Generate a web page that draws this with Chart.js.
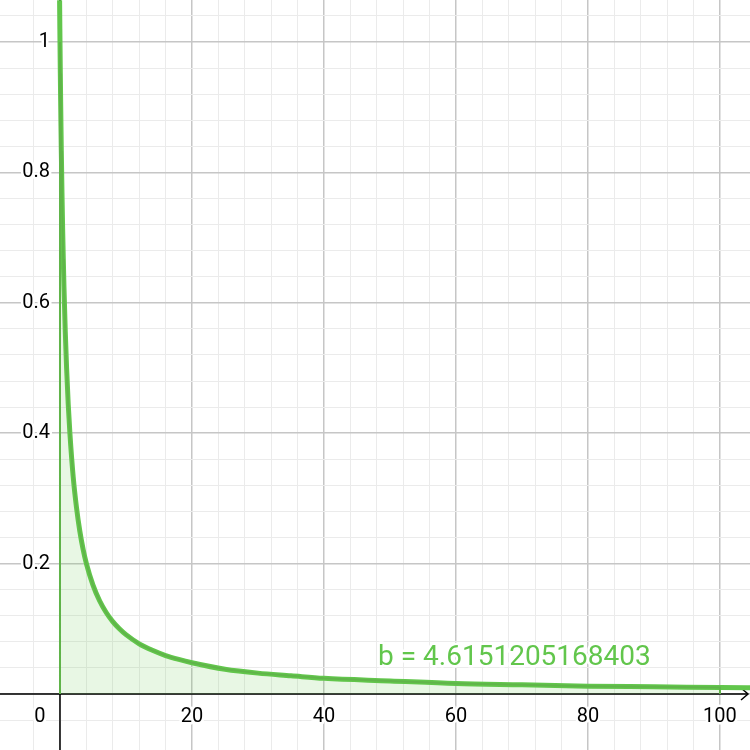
<!DOCTYPE html>
<html>
<head>
<meta charset="utf-8">
<script src="https://cdn.jsdelivr.net/npm/chart.js@4.4.1/dist/chart.umd.min.js"></script>
<style>
  html, body { margin: 0; padding: 0; background: #fff; }
  #wrap { width: 750px; height: 750px; }
</style>
</head>
<body>
<div id="wrap"><canvas id="plot"></canvas></div>
<script>
// curve samples
const curveX = [-0.06, -0.04, -0.02, 0, 0.05, 0.1, 0.15, 0.2, 0.3, 0.4, 0.5, 0.6, 0.8, 1, 1.25, 1.5, 2, 2.5, 3, 3.5, 4, 5, 6, 7, 8, 9, 10, 12, 14, 16, 18, 20, 25, 30, 35, 40, 50, 60, 70, 80, 90, 100, 106];
const curveY = [1.064, 1.042, 1.020, 1.000, 0.952, 0.909, 0.870, 0.833, 0.769, 0.714, 0.667, 0.625, 0.556, 0.500, 0.444, 0.400, 0.333, 0.286, 0.250, 0.222, 0.200, 0.167, 0.143, 0.125, 0.111, 0.100, 0.091, 0.077, 0.067, 0.059, 0.053, 0.048, 0.038, 0.032, 0.028, 0.024, 0.020, 0.016, 0.014, 0.012, 0.011, 0.0099, 0.0093];

// shaded interval
const areaFrom = 0;
const areaTo = 100;

// tick labels
const xTickLabels = [20, 40, 60, 80, 100];
const yTickLabels = [0.2, 0.4, 0.6, 0.8, 1];
const resultLabel = "b = 4.6151205168403";

const green = "rgb(98, 198, 76)";

const curvePts = curveX.map((x, i) => ({ x: x, y: curveY[i] }));
const areaPts = [{ x: areaFrom, y: 0 }]
  .concat(curvePts.filter(p => p.x >= areaFrom && p.x <= areaTo))
  .concat([{ x: areaTo, y: 0 }]);

function isMultiple(v, step) {
  const r = v / step;
  return Math.abs(r - Math.round(r)) < 1e-6;
}

const overlay = {
  id: "overlay",
  beforeDatasetsDraw(chart) {
    const { ctx, scales } = chart;
    const ox = scales.x.getPixelForValue(0);
    const oy = scales.y.getPixelForValue(0);
    ctx.save();
    // axes (the shaded region's outline is drawn over them)
    ctx.strokeStyle = "#000";
    ctx.lineWidth = 1.5;
    ctx.beginPath();
    ctx.moveTo(0, oy);
    ctx.lineTo(chart.width - 2, oy);
    ctx.moveTo(ox, 0);
    ctx.lineTo(ox, chart.height);
    ctx.stroke();
    ctx.beginPath();
    ctx.moveTo(chart.width - 9, oy - 6);
    ctx.lineTo(chart.width - 2, oy);
    ctx.lineTo(chart.width - 9, oy + 6);
    ctx.stroke();
    ctx.restore();
  },
  afterDatasetsDraw(chart) {
    const { ctx, scales } = chart;
    const xs = scales.x, ys = scales.y;
    const ox = xs.getPixelForValue(0);
    const oy = ys.getPixelForValue(0);
    ctx.save();

    // tick labels with white halo
    ctx.font = "20px Roboto";
    ctx.lineWidth = 5;
    ctx.lineJoin = "round";
    ctx.strokeStyle = "#fff";
    ctx.fillStyle = "#000";
    ctx.textBaseline = "middle";
    ctx.textAlign = "right";
    yTickLabels.forEach(v => {
      const py = ys.getPixelForValue(v);
      ctx.strokeText(String(v), ox - 10, py);
      ctx.fillText(String(v), ox - 10, py);
    });
    ctx.textAlign = "center";
    xTickLabels.forEach(v => {
      const px = xs.getPixelForValue(v);
      ctx.strokeText(String(v), px, oy + 23);
      ctx.fillText(String(v), px, oy + 23);
    });
    ctx.strokeText("0", ox - 20, oy + 23);
    ctx.fillText("0", ox - 20, oy + 23);

    // result text
    ctx.font = "28px Roboto";
    ctx.textAlign = "left";
    ctx.textBaseline = "alphabetic";
    ctx.fillStyle = green;
    const tx = xs.getPixelForValue(48.2), ty = ys.getPixelForValue(0.0445);
    ctx.strokeText(resultLabel, tx, ty);
    ctx.fillText(resultLabel, tx, ty);
    ctx.restore();
  }
};

new Chart(document.getElementById("plot"), {
  type: "scatter",
  data: {
    datasets: [
      {
        data: areaPts,
        showLine: true,
        tension: 0,
        fill: "origin",
        backgroundColor: "rgba(98, 198, 76, 0.15)",
        borderColor: "rgb(96, 180, 74)",
        borderWidth: 2,
        pointRadius: 0
      },
      {
        data: curvePts,
        showLine: true,
        cubicInterpolationMode: "monotone",
        borderColor: green,
        borderWidth: 5,
        pointRadius: 0,
        fill: false
      }
    ]
  },
  options: {
    responsive: true,
    maintainAspectRatio: false,
    animation: false,
    layout: { padding: 0 },
    plugins: { legend: { display: false }, tooltip: { enabled: false } },
    scales: {
      x: {
        type: "linear",
        min: -9.09,
        max: 104.55,
        border: { display: false },
        ticks: { display: false, stepSize: 4 },
        grid: {
          drawTicks: false,
          lineWidth: ctx => isMultiple(ctx.tick.value, 20) ? 1.5 : 1,
          color: ctx => {
            const v = ctx.tick.value;
            if (!isMultiple(v, 4)) return "rgba(0,0,0,0)";
            return isMultiple(v, 20) ? "#c6c6c6" : "#ebebeb";
          }
        }
      },
      y: {
        type: "linear",
        min: -0.0859,
        max: 1.0644,
        border: { display: false },
        ticks: { display: false, stepSize: 0.04 },
        grid: {
          drawTicks: false,
          lineWidth: ctx => isMultiple(ctx.tick.value, 0.2) ? 1.5 : 1,
          color: ctx => {
            const v = ctx.tick.value;
            if (!isMultiple(v, 0.04)) return "rgba(0,0,0,0)";
            return isMultiple(v, 0.2) ? "#c6c6c6" : "#ebebeb";
          }
        }
      }
    }
  },
  plugins: [overlay]
});
</script>
</body>
</html>
